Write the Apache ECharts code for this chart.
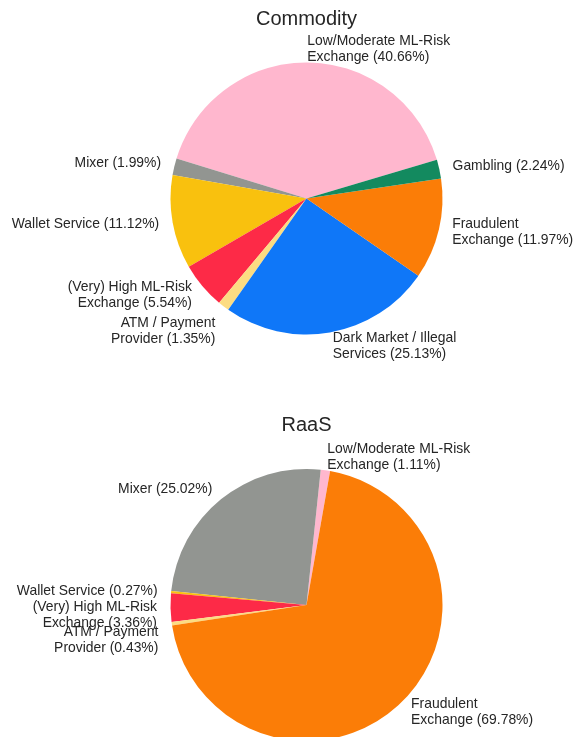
<!DOCTYPE html>
<html>
<head>
<meta charset="utf-8">
<script src="https://cdn.jsdelivr.net/npm/echarts@6/dist/echarts.min.js"></script>
<style>
html,body{margin:0;padding:0;background:#fff;}
#chart{width:577px;height:737px;}
</style>
</head>
<body>
<div id="chart"></div>
<script>
var categories = [
  "Low/Moderate ML-Risk\nExchange",
  "Mixer",
  "Wallet Service",
  "(Very) High ML-Risk\nExchange",
  "ATM / Payment\nProvider",
  "Dark Market / Illegal\nServices",
  "Fraudulent\nExchange",
  "Gambling"
];
var commodityValues = [40.66, 1.99, 11.12, 5.54, 1.35, 25.13, 11.97, 2.24];
var raasValues = [1.11, 25.02, 0.27, 3.36, 0.43, 0, 69.78, 0];
var colors = ["#FFB7CE", "#929591", "#F9C10E", "#FD2A47", "#FCDC82", "#0F77F8", "#FB7D07", "#138A5F"];
var titles = ["Commodity", "RaaS"];

// label vertical nudges (spacer line height) per pie, by category index
var labelLead = [
  { 4: 29 },
  { 3: 14, 4: 29 }
];

function buildData(values, leads) {
  var out = [];
  for (var i = 0; i < categories.length; i++) {
    if (values[i] > 0) {
      out.push({ name: categories[i], value: values[i], lead: leads[i] || 0, itemStyle: { color: colors[i] } });
    }
  }
  return out;
}

var R = 136;
var labelFont = "'Liberation Sans', Arial, sans-serif";
function pieSeries(values, cy, startAngle, leads) {
  return {
    type: 'pie',
    center: [306.5, cy],
    radius: R,
    startAngle: startAngle,
    clockwise: false,
    avoidLabelOverlap: false,
    animation: false,
    silent: true,
    data: buildData(values, leads),
    label: {
      show: true,
      position: 'outside',
      formatter: function (p) {
        var txt = p.name + ' (' + p.value.toFixed(2) + '%)';
        var lead = p.data.lead;
        if (lead) return '{s' + lead + '| }\n' + txt;
        return txt;
      },
      fontFamily: labelFont,
      fontSize: 13.9,
      lineHeight: 16,
      color: '#262626',
      distanceToLabelLine: 0,
      rich: {
        s29: { lineHeight: 29, fontSize: 1 },
        s14: { lineHeight: 14, fontSize: 1 }
      }
    },
    labelLine: { show: false, length: R * 0.1, length2: 0 },
    labelLayout: { hideOverlap: false },
    emphasis: { disabled: true }
  };
}

var chart = echarts.init(document.getElementById('chart'), null, { renderer: 'canvas' });
chart.setOption({
  backgroundColor: '#ffffff',
  title: [
    { text: titles[0], left: 306.5, top: 9, textAlign: 'center', padding: 0,
      textStyle: { fontFamily: labelFont, fontSize: 20, fontWeight: 'normal', color: '#262626' } },
    { text: titles[1], left: 306.5, top: 415, textAlign: 'center', padding: 0,
      textStyle: { fontFamily: labelFont, fontSize: 20, fontWeight: 'normal', color: '#262626' } }
  ],
  series: [
    pieSeries(commodityValues, 198.5, 16.5, labelLead[0]),
    pieSeries(raasValues, 605, 80, labelLead[1])
  ]
});
</script>
</body>
</html>
